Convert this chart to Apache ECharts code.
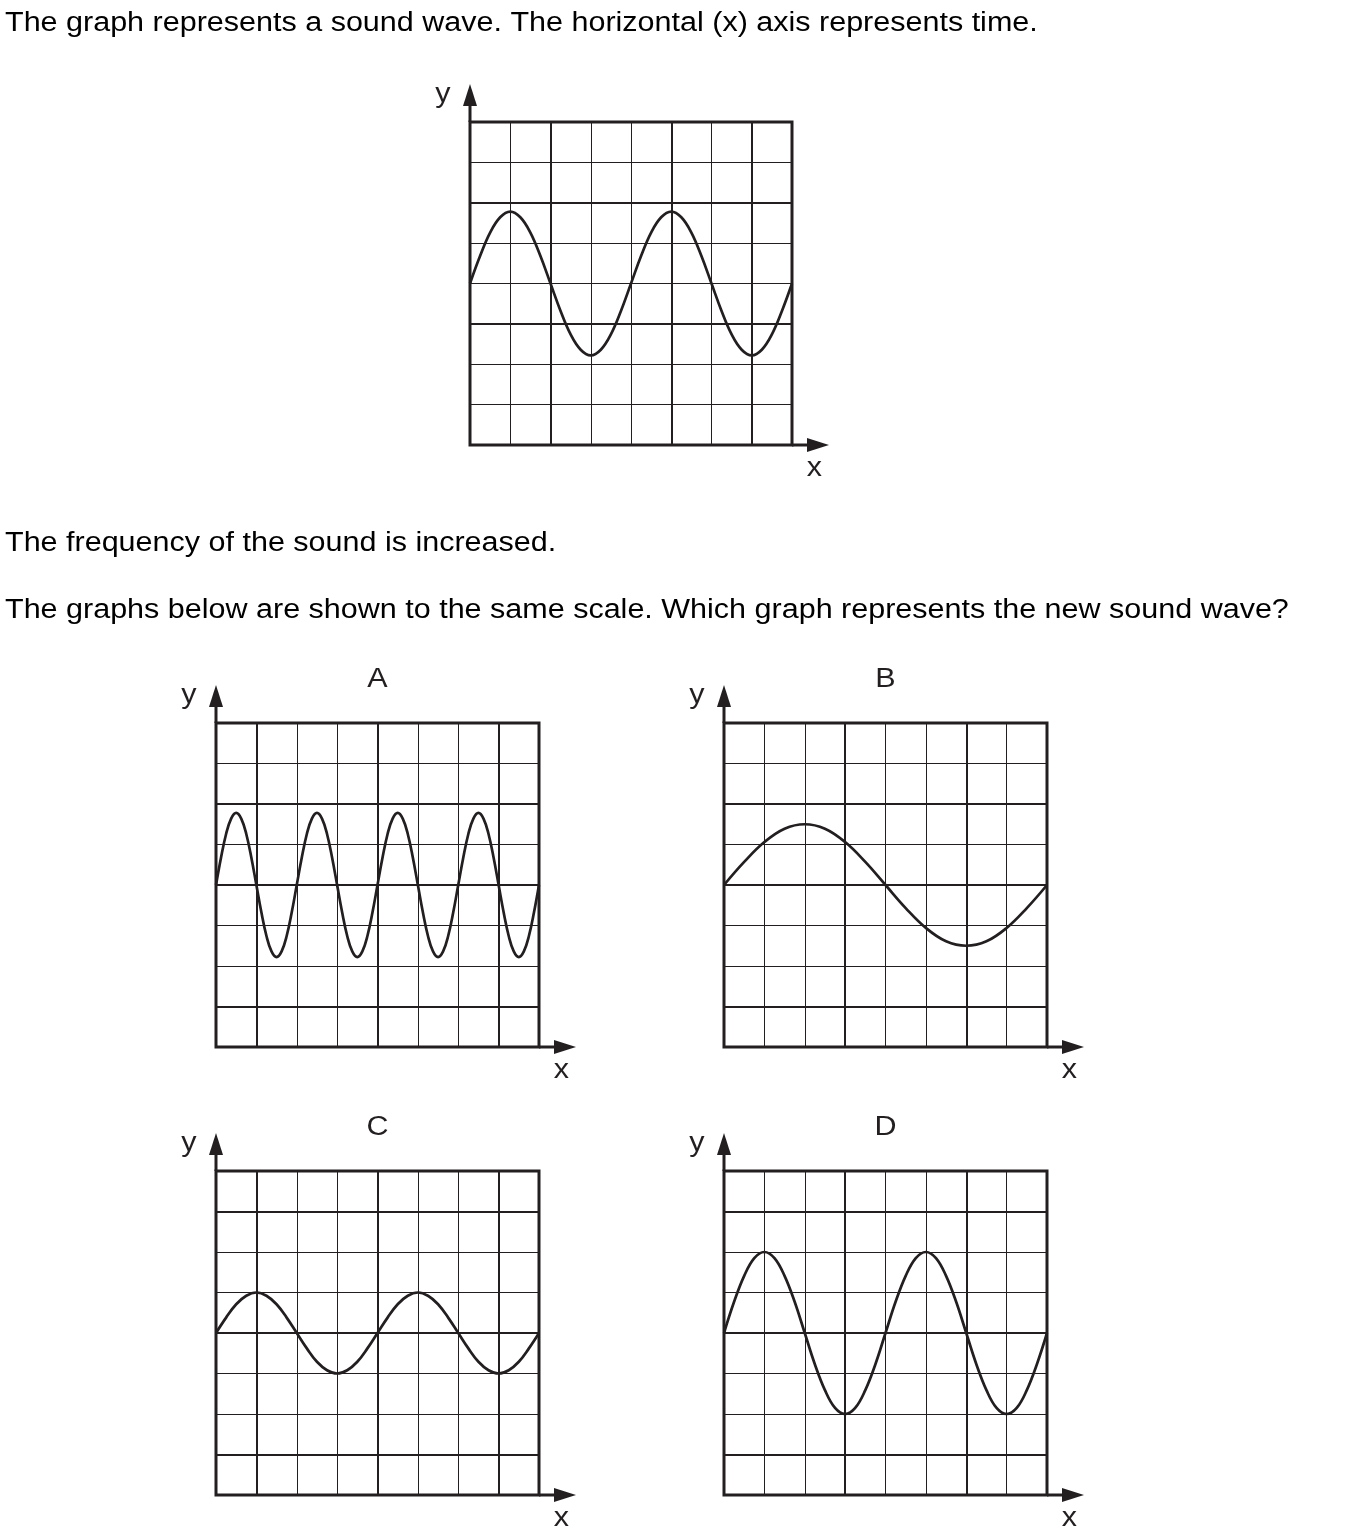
<!DOCTYPE html>
<html>
<head>
<meta charset="utf-8">
<script src="https://cdn.jsdelivr.net/npm/echarts@6/dist/echarts.min.js"></script>
<style>
html,body{margin:0;padding:0;background:#fff;}
#chart{width:1356px;height:1536px;}
</style>
</head>
<body>
<div id="chart"></div>
<script>
// ---------- text ----------
const questionLines = [
  "The graph represents a sound wave. The horizontal (x) axis represents time.",
  "The frequency of the sound is increased.",
  "The graphs below are shown to the same scale. Which graph represents the new sound wave?"
];
const panelNames = ["", "A", "B", "C", "D"];
const xAxisName = "x";
const yAxisName = "y";

// ---------- data (time in grid squares, displacement in grid squares) ----------
const timeHalf = [0,0.5,1,1.5,2,2.5,3,3.5,4,4.5,5,5.5,6,6.5,7,7.5,8];
const timeQuarter = [0,0.25,0.5,0.75,1,1.25,1.5,1.75,2,2.25,2.5,2.75,3,3.25,3.5,3.75,4,
                     4.25,4.5,4.75,5,5.25,5.5,5.75,6,6.25,6.5,6.75,7,7.25,7.5,7.75,8];
const timeEighth = [0,0.125,0.25,0.375,0.5,0.625,0.75,0.875,1,1.125,1.25,1.375,1.5,1.625,1.75,1.875,
                    2,2.125,2.25,2.375,2.5,2.625,2.75,2.875,3,3.125,3.25,3.375,3.5,3.625,3.75,3.875,
                    4,4.125,4.25,4.375,4.5,4.625,4.75,4.875,5,5.125,5.25,5.375,5.5,5.625,5.75,5.875,
                    6,6.125,6.25,6.375,6.5,6.625,6.75,6.875,7,7.125,7.25,7.375,7.5,7.625,7.75,7.875,8];

const waveOriginal = [0,0.68,1.26,1.64,1.78,1.64,1.26,0.68,0,-0.68,-1.26,-1.64,-1.78,-1.64,-1.26,-0.68,
                      0,0.68,1.26,1.64,1.78,1.64,1.26,0.68,0,-0.68,-1.26,-1.64,-1.78,-1.64,-1.26,-0.68,0];
const waveA = [0,0.68,1.26,1.64,1.78,1.64,1.26,0.68,0,-0.68,-1.26,-1.64,-1.78,-1.64,-1.26,-0.68,
               0,0.68,1.26,1.64,1.78,1.64,1.26,0.68,0,-0.68,-1.26,-1.64,-1.78,-1.64,-1.26,-0.68,
               0,0.68,1.26,1.64,1.78,1.64,1.26,0.68,0,-0.68,-1.26,-1.64,-1.78,-1.64,-1.26,-0.68,
               0,0.68,1.26,1.64,1.78,1.64,1.26,0.68,0,-0.68,-1.26,-1.64,-1.78,-1.64,-1.26,-0.68,0];
const waveB = [0,0.57,1.06,1.39,1.5,1.39,1.06,0.57,0,-0.57,-1.06,-1.39,-1.5,-1.39,-1.06,-0.57,0];
const waveC = [0,0.38,0.71,0.92,1,0.92,0.71,0.38,0,-0.38,-0.71,-0.92,-1,-0.92,-0.71,-0.38,
               0,0.38,0.71,0.92,1,0.92,0.71,0.38,0,-0.38,-0.71,-0.92,-1,-0.92,-0.71,-0.38,0];
const waveD = [0,0.77,1.41,1.85,2,1.85,1.41,0.77,0,-0.77,-1.41,-1.85,-2,-1.85,-1.41,-0.77,
               0,0.77,1.41,1.85,2,1.85,1.41,0.77,0,-0.77,-1.41,-1.85,-2,-1.85,-1.41,-0.77,0];

const xExtent = [0, 8];   // x extent in grid squares
const yExtent = [-4, 4];  // y extent in grid squares

// ---------- layout / style ----------
const INK = '#231f20';
const FONT = 'Liberation Sans, Arial, Helvetica, sans-serif';
const FS = 27;
const STRETCH = 1.13;
const panels = [
  {t: timeQuarter, y: waveOriginal, left: 470, top: 122,  w: 322, h: 323, thickX: [2,5,7], thickY: [2,-1]},
  {t: timeEighth,  y: waveA,        left: 216, top: 723,  w: 323, h: 324, thickX: [1,4,7], thickY: [2,0,-3]},
  {t: timeHalf,    y: waveB,        left: 724, top: 723,  w: 323, h: 324, thickX: [3,6],   thickY: [2,0,-3]},
  {t: timeQuarter, y: waveC,        left: 216, top: 1171, w: 323, h: 324, thickX: [1,4,7], thickY: [3,0,-3]},
  {t: timeQuarter, y: waveD,        left: 724, top: 1171, w: 323, h: 324, thickX: [3,6],   thickY: [3,0,-3]}
];

const grids = [], xAxes = [], yAxes = [], series = [], graphics = [];

function label(text, x, y, align) {
  return {type: 'text', x: x, y: y, scaleX: STRETCH, silent: true,
          style: {text: text, font: FS + 'px ' + FONT, fill: INK, textAlign: align, textVerticalAlign: 'bottom'}};
}

panels.forEach((p, i) => {
  grids.push({left: p.left, top: p.top, width: p.w, height: p.h, show: true,
              borderColor: INK, borderWidth: 3, backgroundColor: 'transparent', containLabel: false});
  xAxes.push({gridIndex: i, type: 'value', min: xExtent[0], max: xExtent[1], interval: 1,
              axisLine: {show: false}, axisTick: {show: false}, axisLabel: {show: false},
              splitLine: {show: true, lineStyle: {color: INK, width: 1}}});
  yAxes.push({gridIndex: i, type: 'value', min: yExtent[0], max: yExtent[1], interval: 1,
              axisLine: {show: false}, axisTick: {show: false}, axisLabel: {show: false},
              splitLine: {show: true, lineStyle: {color: INK, width: 1}}});
  const markData = p.thickX.map(v => ({xAxis: v})).concat(p.thickY.map(v => ({yAxis: v})));
  series.push({
    type: 'line', xAxisIndex: i, yAxisIndex: i,
    data: p.t.map((tv, k) => [tv, p.y[k]]),
    smooth: 0.4, showSymbol: false, silent: true, animation: false,
    lineStyle: {color: INK, width: 2.7},
    z: 5,
    markLine: {silent: true, symbol: 'none', animation: false, label: {show: false},
               lineStyle: {color: INK, width: 2, type: 'solid'}, emphasis: {disabled: true},
               data: markData}
  });

  const right = p.left + p.w, bottom = p.top + p.h;
  // x arrow
  graphics.push({type: 'line', shape: {x1: right, y1: bottom, x2: right + 20, y2: bottom},
                 style: {stroke: INK, lineWidth: 3}, silent: true});
  graphics.push({type: 'polygon', shape: {points: [[right + 37, bottom], [right + 15, bottom - 7], [right + 15, bottom + 7]]},
                 style: {fill: INK}, silent: true});
  // y arrow
  graphics.push({type: 'line', shape: {x1: p.left, y1: p.top, x2: p.left, y2: p.top - 20},
                 style: {stroke: INK, lineWidth: 3}, silent: true});
  graphics.push({type: 'polygon', shape: {points: [[p.left, p.top - 38], [p.left - 7, p.top - 16], [p.left + 7, p.top - 16]]},
                 style: {fill: INK}, silent: true});
  // axis names
  graphics.push(label(yAxisName, p.left - 27, p.top - 14, 'center'));
  graphics.push(label(xAxisName, right + 22.5, bottom + 37, 'center'));
  if (panelNames[i]) graphics.push(label(panelNames[i], p.left + p.w / 2, p.top - 30, 'center'));
});

const lineBottoms = [37, 557, 624];
questionLines.forEach((s, k) => {
  const g = label(s, 5, lineBottoms[k], 'left');
  g.style.fill = '#000';
  graphics.push(g);
});

const chart = echarts.init(document.getElementById('chart'), null, {renderer: 'canvas'});
chart.setOption({
  animation: false,
  backgroundColor: '#ffffff',
  grid: grids, xAxis: xAxes, yAxis: yAxes, series: series,
  graphic: graphics
});
</script>
</body>
</html>
